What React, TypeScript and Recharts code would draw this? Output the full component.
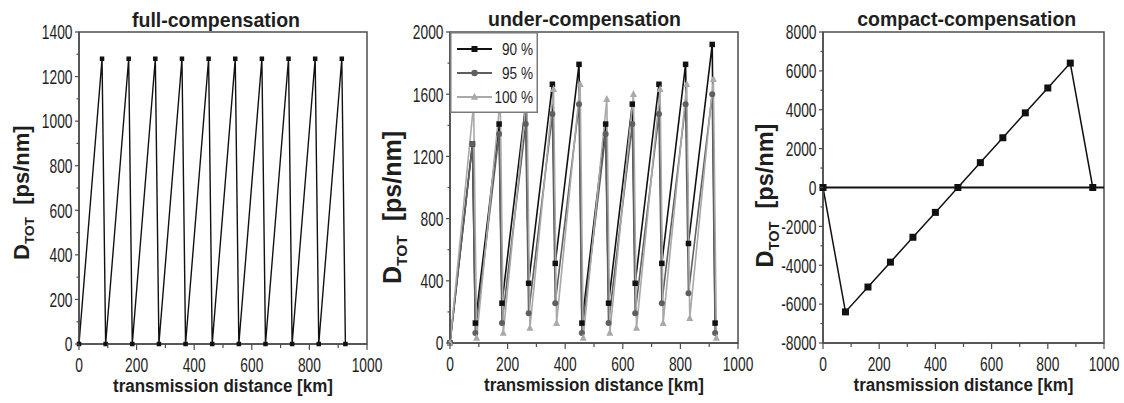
import React from "react"
import {
  LineChart,
  Line,
  XAxis,
  YAxis,
  ReferenceArea,
  ReferenceLine,
  Legend,
} from "recharts"

const FONT = '"Liberation Sans", Arial, sans-serif'
const FRAME = "#4d4d4d"
const INK = "#1e1e1e"

// full-compensation: 80 km spans, reset to 0 after each DCF
const fullDist = [0, 80, 92.5, 172.5, 185, 265, 277.5, 357.5, 370, 450, 462.5, 542.5, 555, 635, 647.5, 727.5, 740, 820, 832.5, 912.5, 925]
const fullDisp = [0, 1280, 0, 1280, 0, 1280, 0, 1280, 0, 1280, 0, 1280, 0, 1280, 0, 1280, 0, 1280, 0, 1280, 0]

// under-compensation
const underDist = [0, 78, 88, 170.5, 180.5, 263, 273, 355.5, 365.5, 448, 458, 540.5, 550.5, 633, 643, 725.5, 735.5, 818, 828, 910.5, 920.5]
const underDist100 = [0, 82, 92.5, 174.5, 185, 267, 277.5, 359.5, 370, 452, 462.5, 544.5, 555, 637, 647.5, 729.5, 740, 822, 832.5, 914.5, 925]
const under90 = [0, 1280, 128, 1408, 256, 1536, 384, 1664, 512, 1792, 128, 1408, 256, 1536, 384, 1664, 512, 1792, 640, 1920, 128]
const under95 = [0, 1280, 64, 1344, 128, 1408, 192, 1472, 256, 1536, 64, 1344, 128, 1408, 192, 1472, 256, 1536, 320, 1600, 64]
const under100 = [0, 1536, 32, 1568, 64, 1600, 96, 1632, 128, 1664, 32, 1568, 64, 1600, 96, 1632, 128, 1664, 160, 1696, 32]
const underNames = ["90 %", "95 %", "100 %"]

// compact-compensation
const compactDist = [0, 80, 160, 240, 320, 400, 480, 560, 640, 720, 800, 880, 960]
const compactDisp = [0, -6400, -5120, -3840, -2560, -1280, 0, 1280, 2560, 3840, 5120, 6400, 0]

const xTicks = [0, 100, 200, 300, 400, 500, 600, 700, 800, 900, 1000]
const fullTicks = [0, 100, 200, 300, 400, 500, 600, 700, 800, 900, 1000, 1100, 1200, 1300, 1400]
const underTicks = [0, 200, 400, 600, 800, 1000, 1200, 1400, 1600, 1800, 2000]
const compactTicks = [-8000, -7000, -6000, -5000, -4000, -3000, -2000, -1000, 0, 1000, 2000, 3000, 4000, 5000, 6000, 7000, 8000]

const toPoints = (xs: number[], ys: number[]) => xs.map((x, i) => ({ x, y: ys[i] }))

const fullData = toPoints(fullDist, fullDisp)
const u90Data = toPoints(underDist, under90)
const u95Data = toPoints(underDist, under95)
const u100Data = toPoints(underDist100, under100)
const compactData = toPoints(compactDist, compactDisp)

function makeXTick(step: number) {
  return (p: any) => {
    const { x, y, payload } = p
    const major = payload.value % step === 0
    return (
      <g key={`xt${payload.value}`}>
        <line x1={x} x2={x} y1={y} y2={y + (major ? 6 : 4)} stroke={FRAME} strokeWidth={1.2} />
        {major && (
          <text transform={`translate(${x},${y + 27.5}) scale(0.69,1)`} textAnchor="middle"
            fontSize={20} fontFamily={FONT} fill={INK}>{payload.value}</text>
        )}
      </g>
    )
  }
}

function makeYTick(step: number) {
  return (p: any) => {
    const { x, y, payload } = p
    const major = payload.value % step === 0
    return (
      <g key={`yt${payload.value}`}>
        <line x1={x - (major ? 4 : 2.5)} x2={x} y1={y} y2={y} stroke={FRAME} strokeWidth={1.2} />
        {major && (
          <text transform={`translate(${x - 6.5},${y + 7.3}) scale(0.69,1)`} textAnchor="end"
            fontSize={20} fontFamily={FONT} fill={INK}>{payload.value}</text>
        )}
      </g>
    )
  }
}

const xLabel = (p: any) => {
  const { x, y, width } = p.viewBox
  return (
    <text transform={`translate(${x + width / 2},${y + 48}) scale(0.895,1)`} textAnchor="middle"
      fontSize={19} fontWeight="bold" fontFamily={FONT} fill={INK}>
      transmission distance [km]
    </text>
  )
}

function makeYLabel(size: number, shiftY: number) {
  return (p: any) => {
    const { x, y, width, height } = p.viewBox
    const cx = x + width - 58
    const cy = y + height / 2 + shiftY
    return (
      <text transform={`translate(${cx},${cy}) rotate(-90)`} textAnchor="middle" dy="0.36em"
        fontSize={size} fontWeight="bold" fontFamily={FONT} fill={INK}>
        D<tspan fontSize={size * 0.62} dy={size * 0.22}>TOT</tspan>
        <tspan dy={-size * 0.22}>{"\u00a0\u00a0[ps/nm]"}</tspan>
      </text>
    )
  }
}

const squareDot = (size: number, fill: string) => (p: any) => (
  <rect key={`s${p.index}`} x={p.cx - size / 2} y={p.cy - size / 2} width={size} height={size} fill={fill} />
)
const circleDot = (r: number, fill: string) => (p: any) => (
  <circle key={`c${p.index}`} cx={p.cx} cy={p.cy} r={r} fill={fill} />
)
const triDot = (s: number, fill: string) => (p: any) => (
  <polygon key={`t${p.index}`} fill={fill}
    points={`${p.cx},${p.cy - s * 0.6} ${p.cx - s / 2},${p.cy + s * 0.4} ${p.cx + s / 2},${p.cy + s * 0.4}`} />
)

const C90 = "#111111"
const C95 = "#5f5f5f"
const C100 = "#a9a9a9"

const legendMarkers: Record<string, (cx: number, cy: number) => React.ReactNode> = {
  "90 %": (cx, cy) => <rect x={cx - 3} y={cy - 3} width={6} height={6} fill={C90} />,
  "95 %": (cx, cy) => <circle cx={cx} cy={cy} r={3.2} fill={C95} />,
  "100 %": (cx, cy) => <polygon fill={C100} points={`${cx},${cy - 4.2} ${cx - 3.6},${cy + 2.8} ${cx + 3.6},${cy + 2.8}`} />,
}

const renderUnderLegend = (props: any) => {
  const items = [...(props.payload || [])].sort(
    (a: any, b: any) => underNames.indexOf(a.value) - underNames.indexOf(b.value)
  )
  return (
    <svg width={88} height={81} style={{ display: "block" }}>
      <rect x={0.75} y={0.75} width={86.5} height={79.5} fill="#fff" stroke="#7a7a7a" strokeWidth={1.5} />
      {items.map((entry: any, i: number) => {
        const cy = 17 + i * 24
        return (
          <g key={entry.value}>
            <line x1={7} x2={42} y1={cy} y2={cy} stroke={entry.color} strokeWidth={2} />
            {legendMarkers[entry.value]?.(24.5, cy)}
            <text transform={`translate(83,${cy + 6}) scale(0.8,1)`} textAnchor="end"
              fontSize={17} fontFamily={FONT} fill={INK}>{entry.value}</text>
          </g>
        )
      })}
    </svg>
  )
}

const titles = [
  { text: "full-compensation", cx: 216, y: 27 },
  { text: "under-compensation", cx: 584.5, y: 25.5 },
  { text: "compact-compensation", cx: 966.7, y: 25.5 },
]

export default function App() {
  return (
    <div style={{ position: "absolute", left: 0, top: 0, width: 1124, height: 403, background: "#fff", overflow: "hidden" }}>
      <div style={{ position: "absolute", left: 0, top: 0 }}>
        <LineChart width={390} height={403} margin={{ top: 32, right: 23, bottom: 0, left: 0 }}>
          <XAxis type="number" dataKey="x" domain={[0, 1000]} ticks={xTicks} interval={0} height={59}
            tickSize={0} tickMargin={0} tickLine={false} tick={makeXTick(200)}
            axisLine={{ stroke: FRAME, strokeWidth: 1.5 }} label={{ content: xLabel }} />
          <YAxis type="number" dataKey="y" domain={[0, 1400]} ticks={fullTicks} interval={0} width={79}
            tickSize={0} tickMargin={0} tickLine={false} tick={makeYTick(200)}
            axisLine={{ stroke: FRAME, strokeWidth: 1.5 }} label={{ content: makeYLabel(22, 4.7) }} />
          <ReferenceArea x1={0} x2={1000} y1={0} y2={1400} fill="none" stroke={FRAME} strokeWidth={1.5} />
          <Line data={fullData} dataKey="y" type="linear" stroke={C90} strokeWidth={1.4}
            dot={squareDot(4.5, C90)} activeDot={false} isAnimationActive={false} />
        </LineChart>
      </div>

      <div style={{ position: "absolute", left: 375, top: 0 }}>
        <LineChart width={390} height={403} margin={{ top: 32, right: 27, bottom: 0, left: 0 }}>
          <XAxis type="number" dataKey="x" domain={[0, 1000]} ticks={xTicks} interval={0} height={60}
            tickSize={0} tickMargin={0} tickLine={false} tick={makeXTick(200)}
            axisLine={{ stroke: FRAME, strokeWidth: 1.5 }} label={{ content: xLabel }} />
          <YAxis type="number" dataKey="y" domain={[0, 2000]} ticks={underTicks} interval={0} width={75}
            tickSize={0} tickMargin={0} tickLine={false} tick={makeYTick(400)}
            axisLine={{ stroke: FRAME, strokeWidth: 1.5 }} label={{ content: makeYLabel(25, 20) }} />
          <ReferenceArea x1={0} x2={1000} y1={0} y2={2000} fill="none" stroke={FRAME} strokeWidth={1.5} />
          <Line data={u90Data} name={underNames[0]} dataKey="y" type="linear" stroke={C90} strokeWidth={1.6}
            dot={squareDot(5.5, C90)} activeDot={false} isAnimationActive={false} />
          <Line data={u95Data} name={underNames[1]} dataKey="y" type="linear" stroke={C95} strokeWidth={1.6}
            dot={circleDot(3, C95)} activeDot={false} isAnimationActive={false} />
          <Line data={u100Data} name={underNames[2]} dataKey="y" type="linear" stroke={C100} strokeWidth={1.6}
            dot={triDot(7, C100)} activeDot={false} isAnimationActive={false} />
          <Legend layout="vertical" align="center" verticalAlign="middle" content={renderUnderLegend}
            wrapperStyle={{ left: 75, top: 32, width: 88, height: 81 }} />
        </LineChart>
      </div>

      <div style={{ position: "absolute", left: 750, top: 0 }}>
        <LineChart width={374} height={403} margin={{ top: 32, right: 20, bottom: 0, left: 0 }}>
          <XAxis type="number" dataKey="x" domain={[0, 1000]} ticks={xTicks} interval={0} height={60}
            tickSize={0} tickMargin={0} tickLine={false} tick={makeXTick(200)}
            axisLine={{ stroke: FRAME, strokeWidth: 1.5 }} label={{ content: xLabel }} />
          <YAxis type="number" dataKey="y" domain={[-8000, 8000]} ticks={compactTicks} interval={0} width={73}
            tickSize={0} tickMargin={0} tickLine={false} tick={makeYTick(2000)}
            axisLine={{ stroke: FRAME, strokeWidth: 1.5 }} label={{ content: makeYLabel(23.5, 8) }} />
          <ReferenceArea x1={0} x2={1000} y1={-8000} y2={8000} fill="none" stroke={FRAME} strokeWidth={1.5} />
          <ReferenceLine y={0} stroke="#111" strokeWidth={2} />
          <Line data={compactData} dataKey="y" type="linear" stroke={C90} strokeWidth={1.5}
            dot={squareDot(7, C90)} activeDot={false} isAnimationActive={false} />
        </LineChart>
      </div>

      <svg width={1124} height={40} style={{ position: "absolute", left: 0, top: 0, pointerEvents: "none" }}>
        {titles.map((t) => (
          <text key={t.text} transform={`translate(${t.cx},${t.y}) scale(0.93,1)`} textAnchor="middle"
            fontSize={21} fontWeight="bold" fontFamily={FONT} fill={INK}>{t.text}</text>
        ))}
      </svg>
    </div>
  )
}
